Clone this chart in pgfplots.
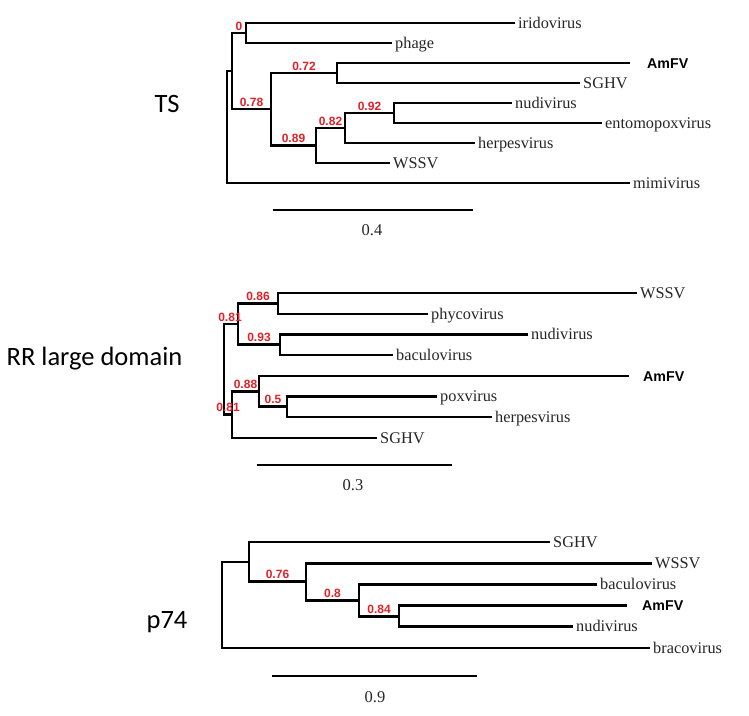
\documentclass[border=0pt]{standalone}
\usepackage{pgfplots}
\pgfplotsset{compat=1.18}
\usepackage{fontspec}
\setmainfont{Liberation Serif}
\newfontfamily\arialf{Liberation Sans}
\newfontfamily\calib{Carlito}
\definecolor{bootred}{RGB}{228,32,38}
\tikzset{
  tax/.style={anchor=base west, inner sep=0pt, text=black!85, font=\fontsize{16.3}{18}\selectfont},
  amf/.style={anchor=base west, inner sep=0pt, font=\arialf\bfseries\fontsize{14.2}{16}\selectfont},
  bs/.style={anchor=base, inner sep=0pt, text=bootred, font=\arialf\bfseries\fontsize{12}{14}\selectfont},
  ttl/.style={anchor=base, inner sep=0pt, font=\calib\fontsize{26.5}{30}\selectfont},
  scl/.style={anchor=base, inner sep=0pt, text=black!85, font=\fontsize{16.5}{18}\selectfont},
}
\pgfplotsset{br/.style={black, solid, line width=2.7pt, line join=miter, mark=none}}
\begin{document}
\begin{tikzpicture}
\begin{axis}[
  x=1pt, y=1pt, y dir=reverse,
  xmin=0, xmax=749, ymin=0, ymax=715,
  hide axis, clip=false, scale only axis,
]
\fill[white] (0,0) rectangle (749,715);

% ---------------- TS ----------------
\addplot[br] coordinates {(232,71) (227,71) (227,183) (630,183)};
\addplot[br] coordinates {(246,33) (232,33) (232,109) (271,109)};
\addplot[br] coordinates {(515,23) (246,23) (246,43) (392,43)};
\addplot[br] coordinates {(337,73) (271,73) (271,145.5) (316,145.5)};
\addplot[br] coordinates {(630,63) (337,63) (337,83) (580,83)};
\addplot[br] coordinates {(345,128) (316,128) (316,163) (390,163)};
\addplot[br] coordinates {(394,113) (345,113) (345,143) (475,143)};
\addplot[br] coordinates {(512,103) (394,103) (394,123) (602,123)};
\addplot[br] coordinates {(272.7,210) (472.7,210)};

\node[tax] at (518,28) {iridovirus};
\node[tax] at (395,48) {phage};
\node[amf] at (647,68) {AmFV};
\node[tax] at (583,88) {SGHV};
\node[tax] at (515,108) {nudivirus};
\node[tax] at (605,128) {entomopoxvirus};
\node[tax] at (478,148) {herpesvirus};
\node[tax] at (393,168) {WSSV};
\node[tax] at (633,188) {mimivirus};

\node[bs] at (239,30) {0};
\node[bs] at (304,70) {0.72};
\node[bs] at (251.5,106) {0.78};
\node[bs] at (293.5,142.5) {0.89};
\node[bs] at (330.5,125) {0.82};
\node[bs] at (369.5,110) {0.92};

\node[scl] at (372,235) {0.4};
\node[ttl] at (167,112.5) {TS};

% ---------------- RR large domain ----------------
\addplot[br] coordinates {(238,324) (224,324) (224,414.7) (232,414.7)};
\addplot[br] coordinates {(278,303.5) (238,303.5) (238,344.75) (280,344.75)};
\addplot[br] coordinates {(637,293) (278,293) (278,314) (428,314)};
\addplot[br] coordinates {(528,334.5) (280,334.5) (280,355) (393,355)};
\addplot[br] coordinates {(259,391.4) (232,391.4) (232,438) (377,438)};
\addplot[br] coordinates {(629,376) (259,376) (259,406.75) (287,406.75)};
\addplot[br] coordinates {(437,396.5) (287,396.5) (287,417) (492,417)};
\addplot[br] coordinates {(256.7,465) (451.7,465)};

\node[tax] at (640,298) {WSSV};
\node[tax] at (431,319) {phycovirus};
\node[tax] at (531,339.5) {nudivirus};
\node[tax] at (396,360) {baculovirus};
\node[amf] at (643,381) {AmFV};
\node[tax] at (440,401.5) {poxvirus};
\node[tax] at (495,422) {herpesvirus};
\node[tax] at (380,443) {SGHV};

\node[bs] at (258,300.5) {0.86};
\node[bs] at (230,321) {0.81};
\node[bs] at (259,341.75) {0.93};
\node[bs] at (245.5,388.4) {0.88};
\node[bs] at (273,403.75) {0.5};
\node[bs] at (228,411.7) {0.81};

\node[scl] at (353,490) {0.3};
\node[ttl] at (94.5,365.5) {RR large domain};

% ---------------- p74 ----------------
\addplot[br] coordinates {(249,561.9) (222,561.9) (222,648) (650,648)};
\addplot[br] coordinates {(550,542) (249,542) (249,581.75) (306,581.75)};
\addplot[br] coordinates {(652,563.2) (306,563.2) (306,600.3) (359,600.3)};
\addplot[br] coordinates {(597,584.4) (359,584.4) (359,616.2) (399,616.2)};
\addplot[br] coordinates {(627,605.6) (399,605.6) (399,626.8) (573,626.8)};
\addplot[br] coordinates {(272,676) (477,676)};

\node[tax] at (553,547) {SGHV};
\node[tax] at (655,568.2) {WSSV};
\node[tax] at (600,589.4) {baculovirus};
\node[amf] at (642,610.6) {AmFV};
\node[tax] at (576,631.8) {nudivirus};
\node[tax] at (653,653) {bracovirus};

\node[bs] at (277.5,578.75) {0.76};
\node[bs] at (332.5,597.3) {0.8};
\node[bs] at (379,613.2) {0.84};

\node[scl] at (375,702) {0.9};
\node[ttl] at (167,628) {p74};
\end{axis}
\end{tikzpicture}
\end{document}
